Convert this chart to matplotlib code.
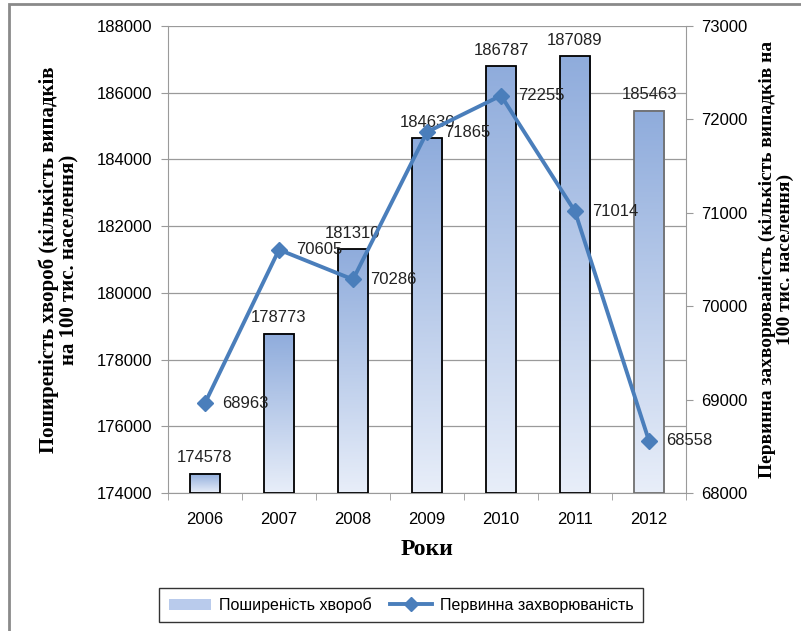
import numpy as np
import matplotlib.pyplot as plt
from matplotlib.colors import LinearSegmentedColormap
from matplotlib.patches import Patch, Rectangle
from matplotlib.lines import Line2D

years = ['2006', '2007', '2008', '2009', '2010', '2011', '2012']
prevalence = [174578, 178773, 181310, 184630, 186787, 187089, 185463]
incidence = [68963, 70605, 70286, 71865, 72255, 71014, 68558]

left_label = 'Поширеність хвороб (кількість випадків\nна 100 тис. населення)'
right_label = 'Первинна захворюваність (кількість випадків на\n100 тис. населення)'
x_label = 'Роки'
bar_name = 'Поширеність хвороб'
line_name = 'Первинна захворюваність'

sans = ['Liberation Sans', 'DejaVu Sans']
serif = ['Liberation Serif', 'DejaVu Serif']
plt.rcParams['font.family'] = sans

line_color = '#4A7EBB'
grad = LinearSegmentedColormap.from_list('g', ['#E8EEF9', '#8FACDC'])

fig = plt.figure(figsize=(8.01, 6.31), dpi=100)
ax = fig.add_axes([168 / 801, 1 - 493 / 631, (686 - 168) / 801, (493 - 26) / 631])

x = np.arange(len(years))
ymin, ymax = 174000, 188000
width = 0.41

ax.set_xlim(-0.5, len(years) - 0.5)
ax.set_ylim(ymin, ymax)
ax.set_yticks(np.arange(174000, 188001, 2000))
ax.yaxis.grid(True, color='#9a9a9a', linewidth=0.9)
ax.set_axisbelow(True)

# gradient bars
g = np.linspace(0, 1, 256).reshape(-1, 1)
for i, v in enumerate(prevalence):
    ax.imshow(g, cmap=grad, origin='lower', aspect='auto', zorder=2,
              extent=[i - width / 2, i + width / 2, ymin, v])
    ec = '#707070' if i == len(years) - 1 else 'black'
    ax.add_patch(Rectangle((i - width / 2, ymin), width, v - ymin, fill=False,
                           edgecolor=ec, linewidth=1.3, zorder=3))
    ax.text(i, v + 250, str(v), ha='center', va='bottom', fontsize=12, color='#222222', zorder=5)
ax.set_xlim(-0.5, len(years) - 0.5)
ax.set_ylim(ymin, ymax)

ax.set_xticks(x)
ax.set_xticklabels(years)
ax.set_xticks(np.arange(-0.5, len(years)), minor=True)
ax.tick_params(axis='x', which='major', length=0, pad=14, labelsize=12)
ax.tick_params(axis='x', which='minor', length=5, color='#9a9a9a', direction='out')
ax.tick_params(axis='y', length=5, color='#9a9a9a', labelsize=12, pad=6)

for s in ['top', 'right']:
    ax.spines[s].set_visible(False)
for s in ['left', 'bottom']:
    ax.spines[s].set_color('#9a9a9a')

ax.set_ylabel(left_label, family=serif, fontweight='bold', fontsize=15, labelpad=13, linespacing=1.0)
ax.set_xlabel(x_label, family=serif, fontweight='bold', fontsize=17, labelpad=8)

ax2 = ax.twinx()
ax2.set_ylim(68000, 73000)
ax2.set_yticks(np.arange(68000, 73001, 1000))
ax2.plot(x, incidence, color=line_color, linewidth=2.8, marker='D', markersize=8, zorder=4)
for i, v in enumerate(incidence):
    ax2.annotate(str(v), (x[i], v), xytext=(12, 0), textcoords='offset points',
                 ha='left', va='center', fontsize=12, color='#222222')
ax2.tick_params(axis='y', length=5, color='#9a9a9a', labelsize=12, pad=6)
for s in ['top', 'left', 'bottom']:
    ax2.spines[s].set_visible(False)
ax2.spines['right'].set_color('#9a9a9a')
ax2.set_ylabel(right_label, family=serif, fontweight='bold', fontsize=14, rotation=90,
               linespacing=1.0)
ax2.yaxis.set_label_coords(1.0 + (759 - 686) / 518, 0.5)
ax2.set_xlim(-0.5, len(years) - 0.5)

handles = [Patch(facecolor='#B9CBEC', edgecolor='none'),
           Line2D([], [], color=line_color, linewidth=2.8, marker='D', markersize=7)]
leg = fig.legend(handles, [bar_name, line_name], loc='center', ncol=2,
                 bbox_to_anchor=(0.501, 1 - 605 / 631), frameon=True, fancybox=False,
                 edgecolor='black', fontsize=11.5, handlelength=2.6, columnspacing=1.2,
                 handletextpad=0.5, borderpad=0.6)
leg.get_frame().set_linewidth(1.0)

# outer chart border (left and top edges visible)
fig.add_artist(Rectangle((9 / 801, -0.1), 1.2, 1 - 4 / 631 + 0.1, transform=fig.transFigure,
                         fill=False, edgecolor='#8a8a8a', linewidth=2))

fig.savefig('out.png', dpi=100)
